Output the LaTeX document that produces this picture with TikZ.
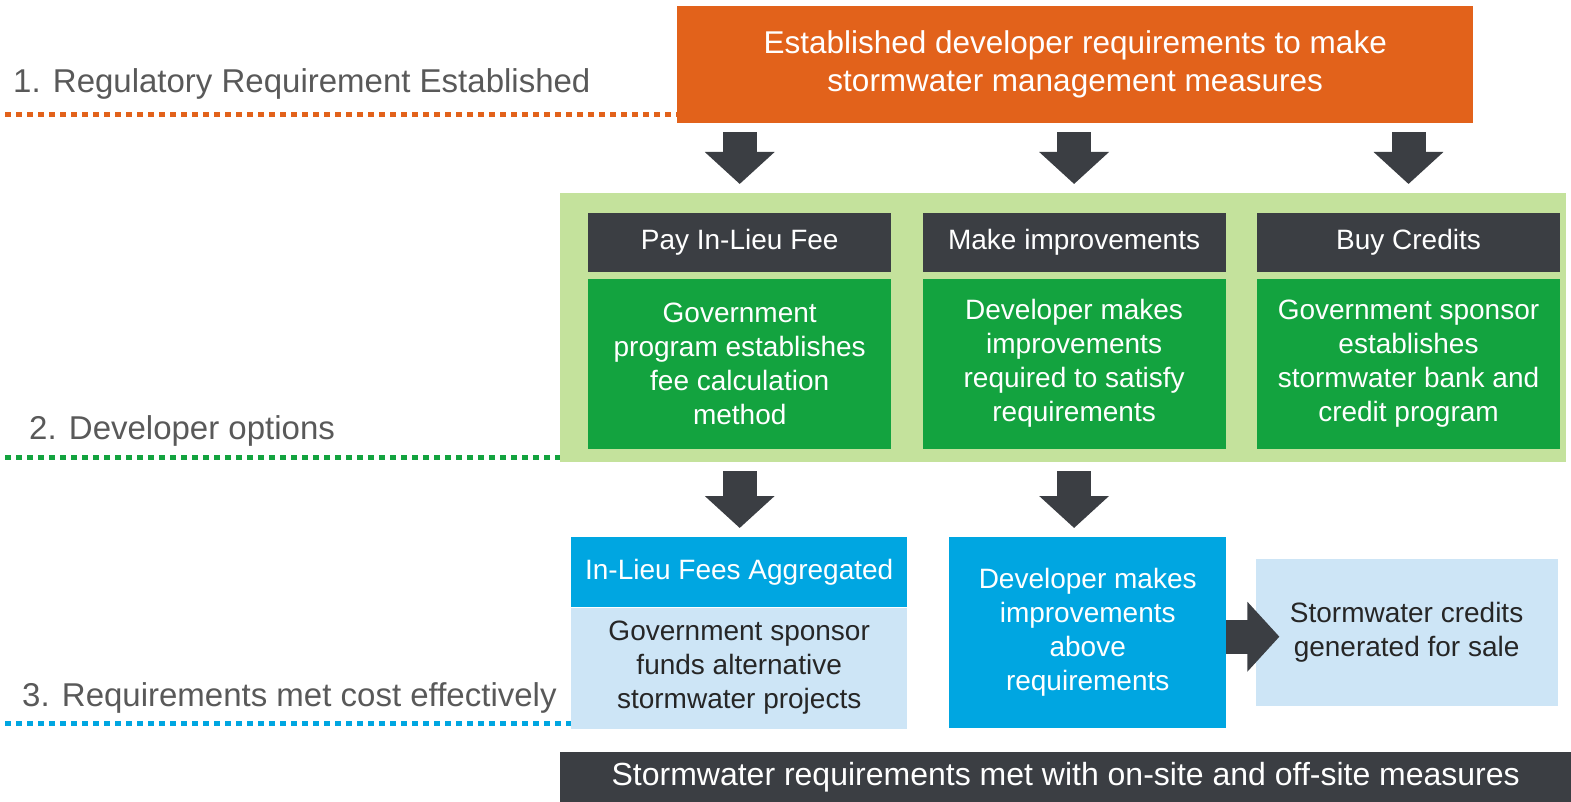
\documentclass[tikz,border=0pt]{standalone}
\usepackage{fontspec}
\setmainfont{Liberation Sans}
\usepackage{xcolor}
\usetikzlibrary{positioning,arrows.meta}
\definecolor{regorange}{HTML}{E2621B}
\definecolor{darkbox}{HTML}{3B3E43}
\definecolor{optgreen}{HTML}{13A33F}
\definecolor{panelgreen}{HTML}{C4E29C}
\definecolor{metblue}{HTML}{00A6E1}
\definecolor{lightblue}{HTML}{CDE5F6}
\definecolor{labelgray}{HTML}{595959}
\definecolor{darktext}{HTML}{262626}

\begin{document}
\begin{tikzpicture}[x=1pt,y=-1pt,
	box/.style={anchor=north west,inner sep=0pt,align=center,text=white,font=\fontsize{28}{34}\selectfont},
	hdr/.style={box,fill=darkbox,minimum width=303pt,minimum height=59pt},
	optbody/.style={box,fill=optgreen,minimum width=303pt,minimum height=170pt},
	steplabel/.style={anchor=base west,inner sep=0pt,text=labelgray,font=\fontsize{33}{40}\selectfont},
	dotline/.style={line width=5pt,dash pattern=on 6pt off 5pt},
	blockarrow/.style={draw=darkbox,line width=34pt,-{Triangle[length=32pt,width=68pt]}},
	downarrow/.style={blockarrow,shorten <=9pt,shorten >=9pt}]
	\useasboundingbox (0,0) rectangle (1571,802);

	\node[steplabel] (lab1) at (13,93) {1. Regulatory Requirement Established};
	\node[steplabel] (lab2) at (29,439) {2. Developer options};
	\node[steplabel] (lab3) at (22,706) {3. Requirements met cost effectively};
	\draw[dotline,regorange] (5,115) -- (677,115);
	\draw[dotline,optgreen] (5,457) -- (560,457);
	\draw[dotline,metblue] (5,723) -- (571,723);

	\node[box,fill=regorange,minimum width=796pt,minimum height=117pt,font=\fontsize{31.5}{38}\selectfont] (reg) at (677,6)
		{Established developer requirements to make\\stormwater management measures};

	\node[box,fill=panelgreen,minimum width=1006pt,minimum height=269pt] (panel) at (560,193) {};
	\node[hdr] (pay) at (588,213) {Pay In-Lieu Fee};
	\node[hdr,right=31pt of pay] (make) {Make improvements};
	\node[hdr,right=31pt of make] (buy) {Buy Credits};
	\node[optbody,below=6pt of pay] (paybody) {Government\\program establishes\\fee calculation\\method};
	\node[optbody,below=6pt of make] (makebody) {Developer makes\\improvements\\required to satisfy\\requirements};
	\node[optbody,below=6pt of buy] (buybody) {Government sponsor\\establishes\\stormwater bank and\\credit program};

	\node[box,fill=metblue,minimum width=336pt,minimum height=70pt] (fees) at (571,537) {In-Lieu Fees Aggregated};
	\node[box,fill=lightblue,text=darktext,minimum width=336pt,minimum height=121pt,below=0pt of fees] (feesbody)
		{Government sponsor\\funds alternative\\stormwater projects};
	\node[box,fill=metblue,minimum width=277pt,minimum height=191pt] (devimp) at (949,537)
		{Developer makes\\improvements\\above\\requirements};
	\node[box,fill=lightblue,text=darktext,minimum width=302pt,minimum height=147pt,right=29pt of devimp] (credits)
		{Stormwater credits\\generated for sale};

	\node[box,fill=darkbox,minimum width=1011pt,minimum height=50pt,font=\fontsize{32}{38}\selectfont] (met) at (560,752)
		{Stormwater requirements met with on-site and off-site measures};

	\draw[downarrow] (reg.south -| pay) -- (panel.north -| pay);
	\draw[downarrow] (reg.south -| make) -- (panel.north -| make);
	\draw[downarrow] (reg.south -| buy) -- (panel.north -| buy);
	\draw[downarrow] (panel.south -| pay) -- (fees.north -| pay);
	\draw[downarrow] (panel.south -| make) -- (devimp.north -| make);
	\draw[blockarrow] ([yshift=-4pt]devimp.east) -- ([xshift=24pt,yshift=-4pt]credits.west);
\end{tikzpicture}
\end{document}
